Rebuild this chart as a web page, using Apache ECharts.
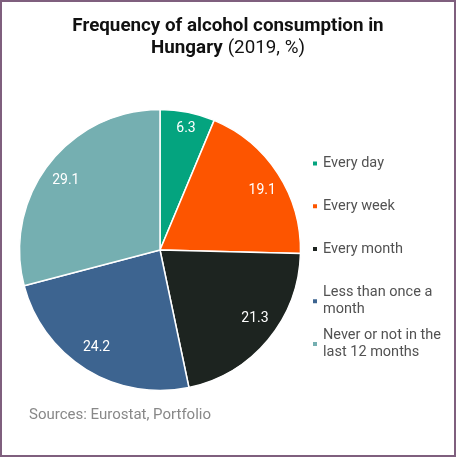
<!DOCTYPE html>
<html>
<head>
<meta charset="utf-8">
<script src="https://cdn.jsdelivr.net/npm/echarts@6/dist/echarts.min.js"></script>
<style>
html,body{margin:0;padding:0;background:#fff;}
#wrap{position:relative;width:456px;height:457px;}
#chart{position:absolute;left:0;top:0;width:456px;height:457px;}
#frame{position:absolute;left:0;top:0;width:456px;height:457px;box-sizing:border-box;border:2px solid #7f5f7e;pointer-events:none;}
</style>
</head>
<body>
<div id="wrap"><div id="chart"></div><div id="frame"></div></div>
<script>
const categories = ['Every day', 'Every week', 'Every month', 'Less than once a month', 'Never or not in the last 12 months'];
const legendLabels = ['Every day', 'Every week', 'Every month', 'Less than once a\nmonth', 'Never or not in the\nlast 12 months'];
const values = [6.3, 19.1, 21.3, 24.2, 29.1];
const colors = ['#04a47f', '#fd5500', '#1d2420', '#3d6490', '#75afb1'];
const titleMain = 'Frequency of alcohol consumption in';
const titleLine2Bold = 'Hungary';
const titleLine2Normal = '(2019, %)';
const sourceText = 'Sources: Eurostat, Portfolio';

// small label nudges (dx, dy) to mimic original label placement
const labelNudges = [[3,-7],[4,4],[5,-6],[-2,-2],[-1.5,1.5]];

const FONT = 'Roboto, "Noto Sans", sans-serif';
const chart = echarts.init(document.getElementById('chart'), null, {renderer: 'canvas'});

const pieData = categories.map((n, i) => ({name: n, value: values[i], itemStyle: {color: colors[i]}}));
const labelData = categories.map((n, i) => ({name: n, value: values[i]}));

const legendCenter0 = 160.5, legendStep = 42.75, lineH = 17;
const legends = categories.map((n, i) => {
  const twoLine = legendLabels[i].indexOf('\n') >= 0;
  const c = legendCenter0 + i * legendStep;
  return {
    data: [n],
    orient: 'vertical',
    left: 311,
    top: twoLine ? c - 13 : c - 5.5,
    padding: 0,
    itemWidth: 6,
    itemHeight: 6,
    icon: 'rect',
    selectedMode: false,
    formatter: () => legendLabels[i],
    textStyle: {
      fontFamily: FONT, fontSize: 14.5, color: '#525252', lineHeight: lineH,
      padding: twoLine ? [lineH, 0, 0, 0] : 0
    }
  };
});

const option = {
  animation: false,
  backgroundColor: '#ffffff',
  title: [{
    text: '{b|' + titleMain + '}\n{b|' + titleLine2Bold + '} {n|' + titleLine2Normal + '}',
    left: 'center',
    top: 11,
    textStyle: {
      rich: {
        b: {fontFamily: FONT, fontSize: 18.8, fontWeight: 'bold', color: '#111111', lineHeight: 21.5},
        n: {fontFamily: FONT, fontSize: 18.8, fontWeight: 'normal', color: '#111111', lineHeight: 21.5}
      }
    }
  }, {
    text: sourceText,
    left: 29,
    top: 408,
    padding: 0,
    textStyle: {fontFamily: FONT, fontSize: 15, fontWeight: 'normal', color: '#888888'}
  }],
  legend: legends,
  series: [{
    type: 'pie',
    center: [160, 250],
    radius: [0, 140.5],
    startAngle: 90,
    clockwise: true,
    label: {show: false},
    labelLine: {show: false},
    emphasis: {disabled: true},
    itemStyle: {borderColor: '#ffffff', borderWidth: 1.5},
    data: pieData
  }, {
    type: 'pie',
    center: [160, 250],
    radius: [88, 140],
    startAngle: 90,
    clockwise: true,
    silent: true,
    legendHoverLink: false,
    itemStyle: {color: 'rgba(0,0,0,0)', borderWidth: 0},
    emphasis: {disabled: true},
    labelLine: {show: false},
    label: {
      show: true, position: 'inside',
      formatter: p => p.value.toFixed(1),
      fontFamily: FONT, fontSize: 14, color: '#ffffff'
    },
    labelLayout: p => ({dx: labelNudges[p.dataIndex][0], dy: labelNudges[p.dataIndex][1]}),
    data: labelData
  }]
};
chart.setOption(option);
</script>
</body>
</html>
